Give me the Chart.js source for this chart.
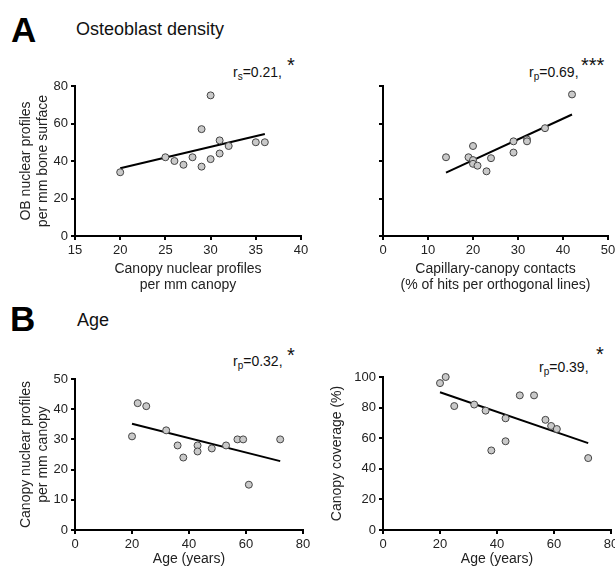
<!DOCTYPE html>
<html>
<head>
<meta charset="utf-8">
<script src="https://cdn.jsdelivr.net/npm/chart.js@4.4.1/dist/chart.umd.min.js"></script>
<style>
html,body{margin:0;padding:0;background:#fff;overflow:hidden;}
body{width:615px;height:569px;position:relative;font-family:Arial,"Liberation Sans",sans-serif;color:#111;}
canvas{position:absolute;}
.t{position:absolute;line-height:1;white-space:nowrap;}
.big{font-weight:bold;font-size:35px;color:#000;}
.head{font-size:18px;}
.ann{font-size:14px;}
.ann sub{font-size:10px;vertical-align:-3px;line-height:0;}
.star{font-size:20px;}
</style>
</head>
<body>

<div class="t big" style="left:11px;top:12px">A</div>
<div class="t head" style="left:76px;top:20px">Osteoblast density</div>
<div class="t big" style="left:10px;top:301px">B</div>
<div class="t head" style="left:77px;top:311px">Age</div>

<div class="t ann" style="left:233px;top:65px">r<sub>s</sub>=0.21,</div>
<div class="t star" style="left:287px;top:55px">*</div>
<div class="t ann" style="left:529px;top:65px">r<sub>p</sub>=0.69,</div>
<div class="t star" style="left:581px;top:55px">***</div>
<div class="t ann" style="left:233px;top:354px">r<sub>p</sub>=0.32,</div>
<div class="t star" style="left:287px;top:345px">*</div>
<div class="t ann" style="left:539px;top:360px">r<sub>p</sub>=0.39,</div>
<div class="t star" style="left:596px;top:344px">*</div>

<canvas id="cA1"></canvas>
<canvas id="cA2"></canvas>
<canvas id="cB1"></canvas>
<canvas id="cB2"></canvas>

<script>
// A - osteoblast density vs canopy nuclear profiles
let a1X = [20,25,26,27,28,29,29,30,30,31,31,32,35,36];
let a1Y = [34,42,40,38,42,57,37,75,41,51,44,48,50,50];
let a1Fit = [[20,36.1],[36,54.4]];

// A - osteoblast density vs capillary-canopy contacts
let a2X = [14,19,20,20,20,21,23,24,29,29,32,32,36,42];
let a2Y = [42,42,48,40.5,38.5,37.5,34.5,41.5,50.5,44.5,51.5,50.5,57.5,75.5];
let a2Fit = [[14,33.8],[42,64.8]];

// B - age
let ageX = [20,22,25,32,36,38,43,43,48,53,57,59,61,72];
let b1Y = [31,42,41,33,28,24,28,26,27,28,30,30,15,30];
let b1Fit = [[20,35.2],[72,22.8]];
let b2Y = [96,100,81,82,78,52,73,58,88,88,72,68,66,47];
let b2Fit = [[20,90],[72,56.8]];

let tickFont = {family:'Arial, "Liberation Sans", sans-serif', size:13};
let titleFont = {family:'Arial, "Liberation Sans", sans-serif', size:14};

function pts(xs,ys){
    return xs.map((x,i)=>({x:x, y:ys[i]}));
}

function axis(min,max,step,title,pad,showLabels,fit){
    return {
        type:'linear', min:min, max:max,
        ticks:{stepSize:step, font:tickFont, color:'#222', padding:3, display:showLabels},
        grid:{display:true, drawOnChartArea:false, drawTicks:true, tickLength:4, color:'#000', lineWidth:2},
        border:{display:true, color:'#000', width:2},
        title:{display:!!title, text:title, font:titleFont, color:'#222', padding:pad},
        afterFit:fit
    };
}

// box = canvas on page, area = plot area on page
function panel(id,box,area,xs,ys,fit,xAx,yAx){
    let cv = document.getElementById(id);
    cv.width = box.w; cv.height = box.h;
    cv.style.left = box.x+'px'; cv.style.top = box.y+'px';
    let yW = area.l - box.x;
    let xH = box.y + box.h - area.b;
    xAx.afterFit = s=>{ s.height = xH; };
    yAx.afterFit = s=>{ s.width = yW; };
    return new Chart(cv,{
        type:'scatter',
        data:{datasets:[
            {data:pts(xs,ys), pointRadius:3.5, pointBackgroundColor:'#c9c9c9', pointBorderColor:'#444', pointBorderWidth:1, clip:false},
            {data:fit.map(p=>({x:p[0],y:p[1]})), showLine:true, borderColor:'#000', borderWidth:2, pointRadius:0, clip:false}
        ]},
        options:{
            responsive:false, animation:false, devicePixelRatio:1,
            layout:{padding:{top:area.t-box.y, right:box.x+box.w-area.r, left:0, bottom:0}},
            plugins:{legend:{display:false}, tooltip:{enabled:false}},
            scales:{x:xAx, y:yAx}
        }
    });
}

panel('cA1',{x:0,y:40,w:320,h:260},{l:75,t:86,r:301,b:236},a1X,a1Y,a1Fit,
    axis(15,40,5,['Canopy nuclear profiles','per mm canopy'],{top:0,bottom:6},true),
    axis(0,80,20,['OB nuclear profiles','per mm bone surface'],{top:18,bottom:0},true));

panel('cA2',{x:326,y:40,w:304,h:260},{l:383,t:86,r:608,b:236},a2X,a2Y,a2Fit,
    axis(0,50,10,['Capillary-canopy contacts','(% of hits per orthogonal lines)'],{top:0,bottom:6},true),
    axis(0,80,20,'',0,false));

panel('cB1',{x:0,y:330,w:320,h:239},{l:75,t:379,r:303,b:530},ageX,b1Y,b1Fit,
    axis(0,80,20,'Age (years)',{top:0,bottom:1},true),
    axis(0,50,10,['Canopy nuclear profiles','per mm canopy'],{top:18,bottom:0},true));

panel('cB2',{x:326,y:330,w:304,h:239},{l:383,t:377,r:611,b:530},ageX,b2Y,b2Fit,
    axis(0,80,20,'Age (years)',{top:0,bottom:1},true),
    axis(0,100,20,'Canopy coverage (%)',{top:3,bottom:0},true));
</script>
</body>
</html>
